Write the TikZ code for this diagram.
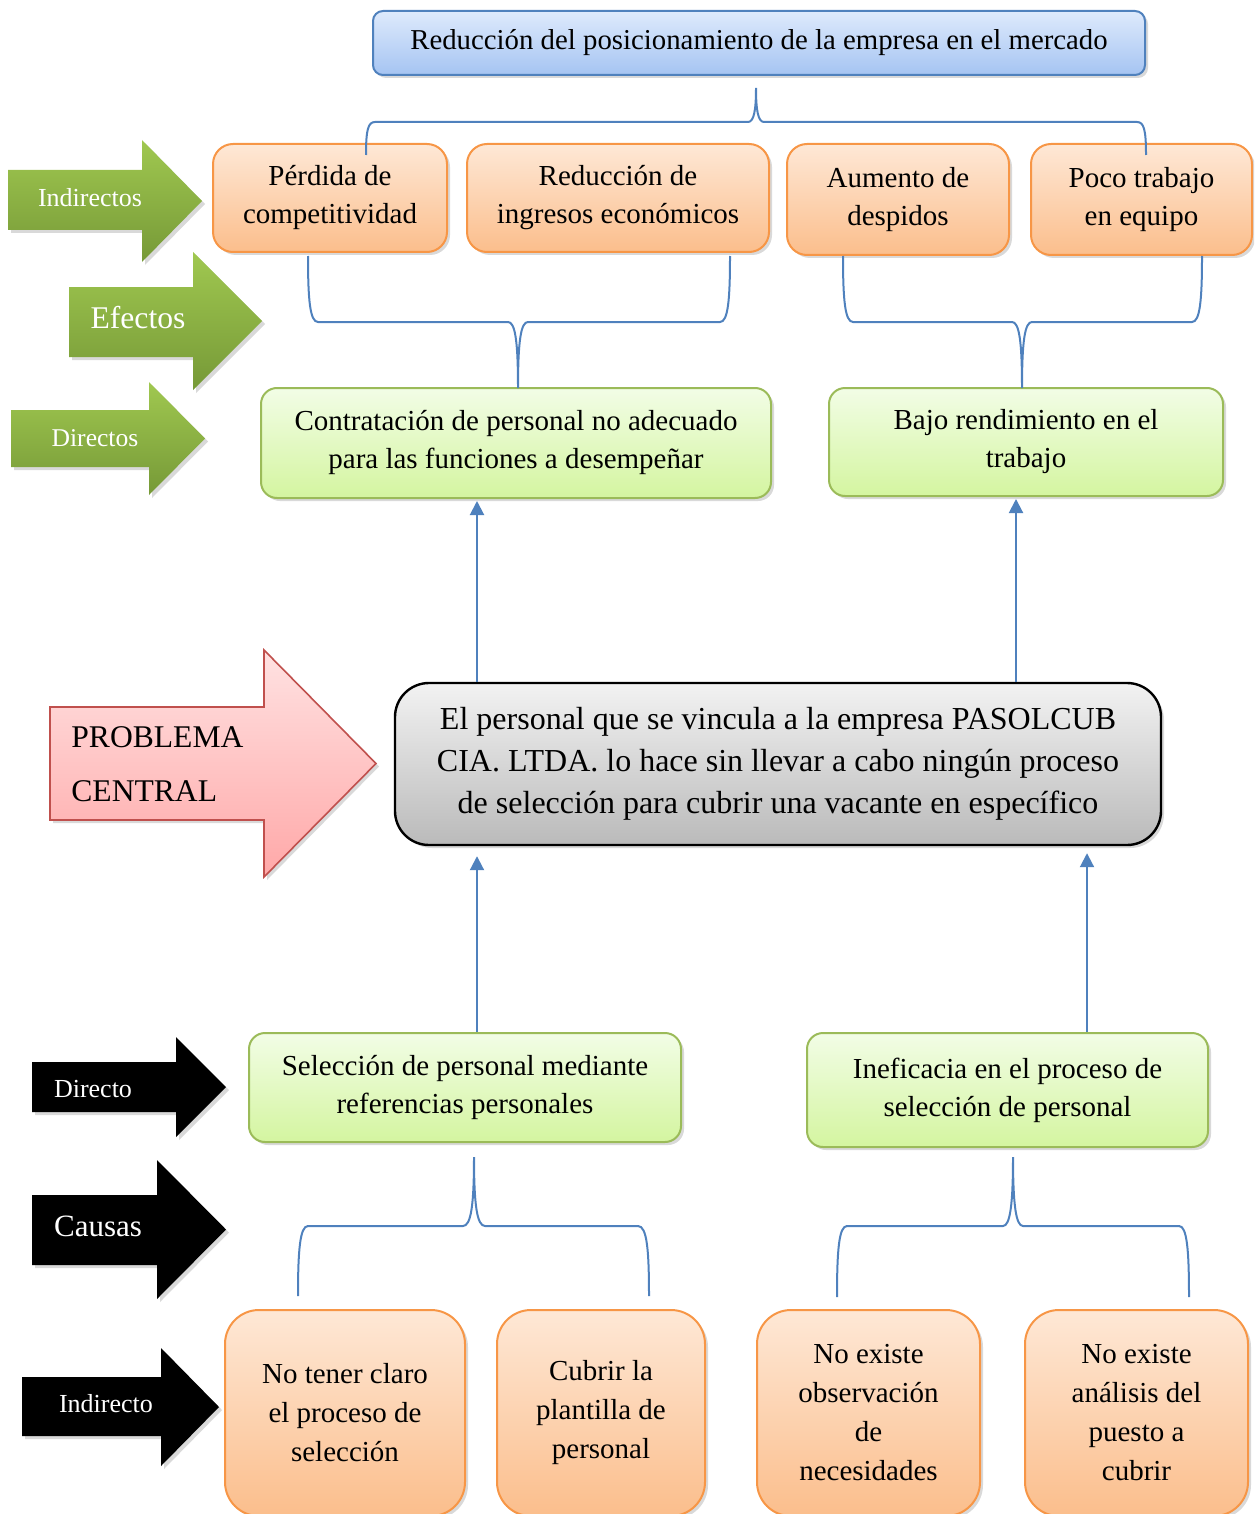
\documentclass[tikz,border=0pt]{standalone}
\usepackage{fontspec}
\setmainfont{Liberation Serif}
\usetikzlibrary{arrows.meta, shadows}

\definecolor{azul}{RGB}{79,129,189}
\definecolor{naranjalinea}{RGB}{247,150,70}
\definecolor{naranjaarriba}{RGB}{254,232,214}
\definecolor{naranjaabajo}{RGB}{251,190,140}
\definecolor{verdelinea}{RGB}{155,187,89}
\definecolor{verdearriba}{RGB}{242,253,230}
\definecolor{verdeabajo}{RGB}{212,245,160}
\definecolor{azularriba}{RGB}{222,234,252}
\definecolor{azulabajo}{RGB}{165,196,242}
\definecolor{rosalinea}{RGB}{192,80,77}
\definecolor{rosaarriba}{RGB}{255,226,226}
\definecolor{rosaabajo}{RGB}{255,168,168}
\definecolor{flechaarriba}{RGB}{160,200,80}
\definecolor{flechaabajo}{RGB}{118,153,55}

\begin{document}
\begin{tikzpicture}[x=0.5pt, y=-0.5pt,
  sombra/.style={drop shadow={opacity=0.3, shadow xshift=1.5pt, shadow yshift=-1.5pt}},
  caja/.style={draw, line width=1pt, align=center, inner sep=0pt, sombra,
    font=\fontsize{14.5}{19}\selectfont},
  efecto/.style={caja, draw=naranjalinea, top color=naranjaarriba, bottom color=naranjaabajo, rounded corners=10pt},
  causa/.style={efecto, rounded corners=17pt, font=\fontsize{14.5}{19.5}\selectfont},
  directo/.style={caja, draw=verdelinea, top color=verdearriba, bottom color=verdeabajo, rounded corners=8pt},
  final/.style={caja, draw=azul, top color=azularriba, bottom color=azulabajo, rounded corners=5pt, font=\fontsize{14.4}{18}\selectfont},
  central/.style={caja, draw=black, line width=1.2pt, top color=black!5, bottom color=black!27, rounded corners=17pt, font=\fontsize{16}{21}\selectfont},
  flechaverde/.style={top color=flechaarriba, bottom color=flechaabajo, sombra},
  flechanegra/.style={fill=black, sombra},
  etiqueta/.style={text=white, inner sep=0pt},
  llave/.style={draw=azul, line width=1pt},
  flecha/.style={draw=azul, line width=1pt, -{Triangle[width=7pt,length=7pt]}}]
\useasboundingbox (0,0) rectangle (1254,1514);
\clip (0,0) rectangle (1254,1514);

% Efecto final
\node[final, minimum width=386pt, minimum height=32pt] (fin) at (759,43)
  {Reducción del posicionamiento de la empresa en el mercado};

% Efectos indirectos
\node[efecto, minimum width=117pt, minimum height=54pt] (perd) at (330,198) {Pérdida de\\competitividad};
\node[efecto, minimum width=151pt, minimum height=54pt] (ingr) at (618,198) {Reducción de\\ingresos económicos};
\node[efecto, minimum width=111pt, minimum height=55.5pt] (desp) at (898,199.5) {Aumento de\\despidos};
\node[efecto, minimum width=110.5pt, minimum height=55.5pt] (equi) at (1141.5,199.5) {Poco trabajo\\en equipo};

% Efectos directos
\node[directo, minimum width=255pt, minimum height=55pt] (contr) at (516,443)
  {Contratación de personal no adecuado\\para las funciones a desempeñar};
\node[directo, minimum width=197pt, minimum height=54pt] (rend) at (1026,442)
  {Bajo rendimiento en el\\trabajo};

% Problema central
\node[central, minimum width=383pt, minimum height=81pt] (prob) at (778,764)
  {El personal que se vincula a la empresa PASOLCUB\\CIA. LTDA. lo hace sin llevar a cabo ningún proceso\\de selección para cubrir una vacante en específico};

% Causas directas
\node[directo, minimum width=216pt, minimum height=54.5pt] (refe) at (465,1087.5)
  {Selección de personal mediante\\referencias personales};
\node[directo, minimum width=200.5pt, minimum height=57pt] (inef) at (1007.5,1090)
  {Ineficacia en el proceso de\\selección de personal};

% Causas indirectas
\node[causa, minimum width=120pt, minimum height=103pt] (clar) at (345,1413) {No tener claro\\el proceso de\\selección};
\node[causa, minimum width=104pt, minimum height=103pt] (plan) at (601,1413) {Cubrir la\\plantilla de\\personal};
\node[causa, minimum width=111.5pt, minimum height=103pt] (obse) at (868.5,1413) {No existe\\observación\\de\\necesidades};
\node[causa, minimum width=111.5pt, minimum height=103pt] (anal) at (1136.5,1413) {No existe\\análisis del\\puesto a\\cubrir};

% Flechas de rotulo
\path[flechaverde] (8,170) -- (142,170) -- (142,140) -- (202,201) -- (142,262) -- (142,230) -- (8,230) -- cycle;
\node[etiqueta, font=\fontsize{13}{15}\selectfont] (rind) at (90,198) {Indirectos};
\path[flechaverde] (69,287) -- (193,287) -- (193,252) -- (262,321) -- (193,390) -- (193,357) -- (69,357) -- cycle;
\node[etiqueta, font=\fontsize{15.8}{18}\selectfont] (refc) at (138,318) {Efectos};
\path[flechaverde] (11,410) -- (149,410) -- (149,382) -- (205,438.5) -- (149,495) -- (149,467) -- (11,467) -- cycle;
\node[etiqueta, font=\fontsize{12.8}{15}\selectfont] (rdir) at (95,438) {Directos};
\path[draw=rosalinea, line width=0.8pt, top color=rosaarriba, bottom color=rosaabajo, sombra]
  (50,707) -- (264,707) -- (264,650) -- (376,763.5) -- (264,877) -- (264,820) -- (50,820) -- cycle;
\node[inner sep=0pt, anchor=west, align=left, font=\fontsize{15.8}{27}\selectfont] (rpro) at (71,764) {PROBLEMA\\CENTRAL};
\path[flechanegra] (32,1062) -- (176,1062) -- (176,1037) -- (226,1087) -- (176,1137) -- (176,1112) -- (32,1112) -- cycle;
\node[etiqueta, font=\fontsize{13}{15}\selectfont] (rcdi) at (93,1089) {Directo};
\path[flechanegra] (32,1195) -- (157,1195) -- (157,1160) -- (226,1229.5) -- (157,1299) -- (157,1265) -- (32,1265) -- cycle;
\node[etiqueta, font=\fontsize{15.5}{18}\selectfont] (rcau) at (98,1226) {Causas};
\path[flechanegra] (22,1377) -- (161,1377) -- (161,1348) -- (219,1407) -- (161,1466) -- (161,1436) -- (22,1436) -- cycle;
\node[etiqueta, font=\fontsize{13}{15}\selectfont] (rcin) at (106,1404) {Indirecto};

% Llaves
\coordinate (l1) at (366,155);
\coordinate (l1p) at (756,88);
\coordinate (l1r) at (1146,155);
\draw[llave] (l1) .. controls (366,130) and (368,122) .. (375,122) -- (748,122)
  .. controls (754,122) and (756,110) .. (l1p) .. controls (756,110) and (758,122) .. (764,122)
  -- (1137,122) .. controls (1144,122) and (1146,130) .. (l1r);
\coordinate (l2) at (308,256);
\coordinate (l2p) at (518,388);
\coordinate (l2r) at (730,256);
\draw[llave] (l2) .. controls (308,300) and (310,322) .. (318,322) -- (508,322)
  .. controls (515,322) and (518,340) .. (l2p) .. controls (518,340) and (521,322) .. (528,322)
  -- (720,322) .. controls (728,322) and (730,300) .. (l2r);
\coordinate (l3) at (843,256);
\coordinate (l3p) at (1022,388);
\coordinate (l3r) at (1202,256);
\draw[llave] (l3) .. controls (843,300) and (845,322) .. (853,322) -- (1012,322)
  .. controls (1019,322) and (1022,340) .. (l3p) .. controls (1022,340) and (1025,322) .. (1032,322)
  -- (1192,322) .. controls (1200,322) and (1202,300) .. (l3r);
\coordinate (l4) at (298,1296);
\coordinate (l4p) at (474,1157);
\coordinate (l4r) at (649,1296);
\draw[llave] (l4) .. controls (298,1250) and (300,1226) .. (308,1226) -- (463,1226)
  .. controls (471,1226) and (474,1205) .. (l4p) .. controls (474,1205) and (477,1226) .. (485,1226)
  -- (638,1226) .. controls (647,1226) and (649,1250) .. (l4r);
\coordinate (l5) at (837,1297);
\coordinate (l5p) at (1013,1157);
\coordinate (l5r) at (1189,1297);
\draw[llave] (l5) .. controls (837,1250) and (839,1226) .. (847,1226) -- (1003,1226)
  .. controls (1010,1226) and (1013,1205) .. (l5p) .. controls (1013,1205) and (1016,1226) .. (1023,1226)
  -- (1179,1226) .. controls (1187,1226) and (1189,1250) .. (l5r);

% Flechas
\coordinate (c1) at (477,0);
\coordinate (c2) at (1016,0);
\coordinate (c3) at (1087,0);
\draw[flecha, shorten >=1pt] (prob.north -| c1) -- (contr.south -| c1);
\draw[flecha, shorten >=1pt] (prob.north -| c2) -- (rend.south -| c2);
\draw[flecha, shorten >=5pt] (refe.north -| c1) -- (prob.south -| c1);
\draw[flecha, shorten >=3.5pt] (inef.north -| c3) -- (prob.south -| c3);
\end{tikzpicture}
\end{document}
